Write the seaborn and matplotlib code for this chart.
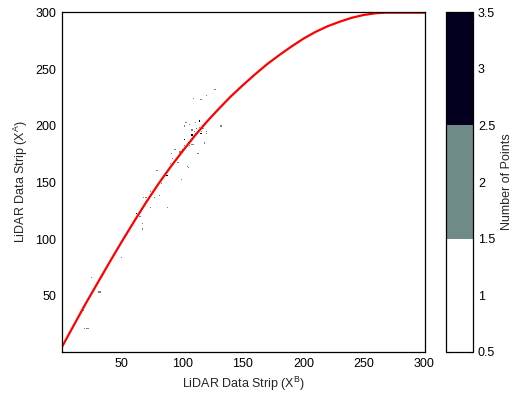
import numpy as np
import matplotlib
matplotlib.use("Agg")
import matplotlib.pyplot as plt
from matplotlib.colors import ListedColormap
import seaborn as sns

# red fitted curve (X^B, X^A)
curve_x = [0, 10, 20, 30, 40, 50, 60, 70, 80, 90, 100, 110, 120, 130, 140,
           150, 160, 170, 180, 190, 200, 210, 220, 230, 240, 250, 260, 268, 300]
curve_y = [4, 23.5, 43, 61.5, 80, 98, 115.5, 132.5, 148.5, 163.5, 177.5, 191,
           203.5, 215, 226, 236, 245.5, 254.5, 262.5, 270, 277, 283, 288, 292,
           295.5, 298, 299.5, 300, 300]

# cells holding 2 points (grey) and 3 points (dark), (X^B, X^A)
cells_two = [
    (127, 232), (109, 224), (115, 223), (116, 223), (120, 227),
    (111, 203), (106, 201), (103, 203), (108, 196), (108, 197), (112, 198),
    (114, 199), (120, 195), (120, 193), (116, 195), (117, 198), (111, 193),
    (110, 195), (102, 200), (109, 184), (102, 183), (106, 183), (108, 184),
    (118, 185), (132, 200), (94, 179), (91, 176), (98, 177), (99, 177),
    (100, 179), (113, 176), (92, 171), (90, 167), (96, 168), (97, 168),
    (104, 164), (105, 163), (79, 161), (88, 161), (87, 158), (99, 153),
    (83, 149), (74, 142), (81, 139), (68, 137), (70, 137), (77, 137),
    (74, 128), (88, 128), (64, 121), (65, 120), (67, 114), (67, 109),
    (50, 84), (25, 66), (31, 54), (32, 54), (31, 53), (32, 53), (18, 37),
    (19, 21), (21, 21), (22, 21),
]
cells_three = [
    (114, 204), (114, 205), (115, 193), (116, 193), (102, 188), (108, 192),
    (105, 185), (87, 156), (88, 156), (62, 123),
]

grid_size = 300
axis_ticks = [50, 100, 150, 200, 250, 300]
cbar_ticks = [0.5, 1, 1.5, 2, 2.5, 3, 3.5]
cbar_labels = ["0.5", "1", "1.5", "2", "2.5", "3", "3.5"]

counts = np.ones((grid_size, grid_size))
for x, y in cells_two:
    counts[y - 1, x - 1] = 2
for x, y in cells_three:
    counts[y - 1, x - 1] = 3

sns.set_style("white")
plt.rcParams["font.family"] = ["Liberation Sans", "DejaVu Sans"]
plt.rcParams["mathtext.default"] = "regular"

fig = plt.figure(figsize=(5.12, 3.98), dpi=100)
ax = fig.add_axes([0.121, 0.1156, 0.709, 0.854])
cax = fig.add_axes([0.871, 0.1156, 0.053, 0.854])

cmap = ListedColormap(["#ffffff", "#6f8b88", "#03001f"])
sns.heatmap(counts, cmap=cmap, vmin=0.5, vmax=3.5, ax=ax, cbar_ax=cax,
            xticklabels=False, yticklabels=False)
ax.invert_yaxis()

# cell centres sit half a unit left/below their value on the axis
ax.plot(np.array(curve_x) - 0.5, np.array(curve_y) - 0.5, color="red", lw=1.6)
ax.set_xlim(0, grid_size)
ax.set_ylim(0, grid_size)

for s in ax.spines.values():
    s.set_visible(True)
    s.set_color("black")
    s.set_linewidth(0.9)

ax.set_xticks(np.array(axis_ticks) - 0.5)
ax.set_xticklabels([str(t) for t in axis_ticks])
ax.set_yticks(np.array(axis_ticks) - 0.5)
ax.set_yticklabels([str(t) for t in axis_ticks])
ax.tick_params(direction="in", top=True, right=True, bottom=True, left=True,
               length=4, width=0.8, labelsize=9, pad=4, colors="black")

ax.set_xlabel("LiDAR Data Strip (X$^B$)", fontsize=9)
ax.set_ylabel("LiDAR Data Strip (X$^A$)", fontsize=9)

cb = ax.collections[0].colorbar
cb.outline.set_linewidth(0.9)
cb.outline.set_edgecolor("black")
cb.set_ticks(cbar_ticks)
cb.set_ticklabels(cbar_labels)
cax.tick_params(direction="in", left=True, right=True, length=3, width=0.8,
                labelsize=9, colors="black")
cax.set_ylabel("Number of Points", fontsize=9)

fig.savefig("out.png", dpi=100)
